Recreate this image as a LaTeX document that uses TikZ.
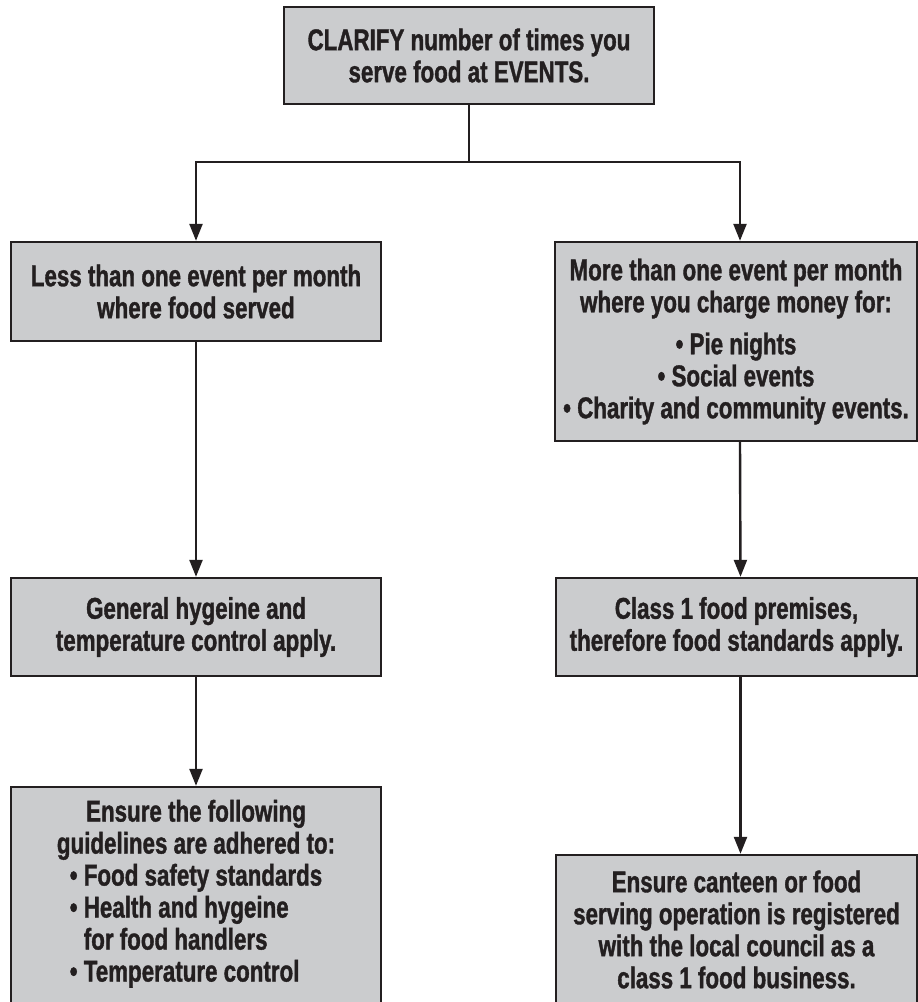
\documentclass[tikz,border=0pt]{standalone}
\usepackage{fontspec}
\setmainfont{Liberation Sans}[FakeStretch=0.745, BoldFeatures={FakeBold=1.2}]
\usetikzlibrary{arrows.meta}
\definecolor{boxfill}{HTML}{CBCCCE}
\definecolor{ink}{HTML}{231F20}
\begin{document}
\begin{tikzpicture}[x=1pt,y=1pt,
  box/.style={draw=ink, line width=2.4pt, fill=boxfill, text=ink, align=center,
    inner sep=0pt, font=\bfseries\fontsize{30}{32}\selectfont},
  conn/.style={draw=ink, line width=2.4pt, -{Triangle[width=13pt,length=17pt]}},
  plain/.style={draw=ink, line width=2.4pt}]
\useasboundingbox (0,0) rectangle (918,1002);
\begin{scope}
\clip (0,0) rectangle (918,1002);
\node[box, minimum width=370pt, minimum height=97pt] (top) at (469,946.5)
  {CLARIFY number of times you\\serve food at EVENTS.};
\node[box, minimum width=370pt, minimum height=99pt] (L1) at (196,710.5)
  {Less than one event per month\\where food served};
\node[box, minimum width=362pt, minimum height=199pt] (R1) at (736,660.5)
  {More than one event per month\\where you charge money for:\\[10pt]
   • Pie nights\\• Social events\\• Charity and community events.};
\node[box, minimum width=370pt, minimum height=98pt] (L2) at (196,375)
  {General hygeine and\\temperature control apply.};
\node[box, minimum width=361pt, minimum height=98pt] (R2) at (736.5,375)
  {Class 1 food premises,\\therefore food standards apply.};
\node[box, minimum width=370pt, minimum height=217pt] (L3) at (196,106.5)
  {Ensure the following\\guidelines are adhered to:\\
   \begin{tabular}[t]{@{}l@{}}
   • Food safety standards\\
   • Health and hygeine\\
   \hphantom{• }for food handlers\\
   • Temperature control
   \end{tabular}};
\node[box, minimum width=361pt, minimum height=149pt] (R3) at (736.5,72.5)
  {Ensure canteen or food\\serving operation is registered\\with the local council as a\\class 1 food business.};
\draw[plain] (top.south) -- ++(0,-57) coordinate (split);
\draw[conn] (split) -| (L1.north);
\draw[conn] (split) -| ([xshift=4pt]R1.north);
\draw[conn] (L1.south) -- (L2.north);
\draw[conn] (L2.south) -- (L3.north);
\draw[conn] ([xshift=4pt]R1.south) -- ([xshift=4pt]R2.north);
\draw[conn] ([xshift=4pt]R2.south) -- ([xshift=4pt]R3.north);
\end{scope}
\end{tikzpicture}
\end{document}
